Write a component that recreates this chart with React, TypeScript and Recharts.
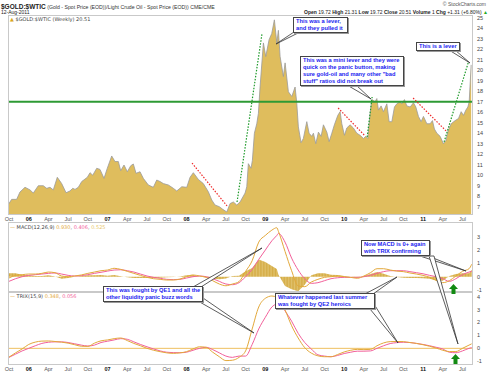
import React from "react";
import { ComposedChart, Area, Line, XAxis, YAxis, ReferenceLine } from "recharts";

// weekly gold/oil ratio, x = months since Oct 2005
const priceMonths = [
  -0.15, 0.41, 1.17, 1.67, 2.44, 3.2, 3.7, 4.46, 5.22, 5.74,
  6.24, 6.74, 7.35, 8.02, 8.68, 9.28, 9.7, 10.05, 10.55, 11.07,
  11.92, 12.33, 12.74, 13.35, 13.85, 14.46, 14.96, 15.63, 16.13, 16.64,
  17.0, 17.5, 18.01, 18.52, 18.92, 19.33, 19.94, 20.44, 21.2, 21.96,
  22.48, 22.98, 23.49, 24.25, 25.01, 25.53, 26.29, 27.05, 27.55, 28.05,
  28.81, 29.57, 30.33, 30.85, 31.35, 32.01, 32.53, 33.14, 33.64, 34.14,
  34.66, 35.16, 35.92, 36.18, 36.42, 36.83, 37.03, 37.34, 37.7, 37.95,
  38.2, 38.71, 39.07, 39.57, 39.98, 40.38, 40.75, 40.99, 41.25, 41.75,
  42.01, 42.51, 43.03, 43.53, 43.79, 44.03, 44.44, 44.79, 45.31, 45.66,
  46.07, 46.32, 46.68, 47.08, 47.49, 47.84, 48.36, 48.71, 49.12, 49.51,
  50.03, 50.38, 50.64, 51.04, 51.4, 51.9, 52.4, 52.92, 53.42, 53.93,
  54.29, 54.6, 54.95, 55.21, 55.71, 55.97, 56.21, 56.62, 56.97, 57.49,
  57.84, 58.25, 58.65, 59.01, 59.51, 59.77, 60.17, 60.53, 61.04, 61.54,
  61.9, 62.3, 62.71, 63.06, 63.58, 64.08, 64.43, 64.73, 65.1, 65.6,
  66.1, 66.47, 66.86, 67.28, 67.88, 68.39, 68.8, 69.15, 69.51, 69.82,
  70.02, 70.32,
];
const priceValues = [
  7.16, 7.7, 7.7, 8.4, 8.85, 8.6, 8.3, 9.0, 9.0, 8.75,
  8.85, 8.6, 9.8, 9.2, 8.33, 8.5, 8.75, 8.65, 8.85, 9.4,
  9.8, 10.24, 10.0, 10.66, 10.55, 9.7, 10.66, 11.83, 11.3, 11.3,
  10.43, 10.97, 10.33, 10.9, 11.07, 10.18, 10.33, 9.7, 9.07, 8.85,
  9.54, 9.4, 9.2, 9.07, 8.75, 8.5, 8.9, 8.85, 9.8, 10.24,
  9.6, 9.2, 8.43, 7.64, 7.16, 7.0, 6.75, 6.5, 7.3, 7.45,
  7.16, 7.45, 8.3, 8.9, 11.1, 10.66, 11.4, 14.0, 14.9, 15.9,
  18.4, 22.6, 21.3, 22.9, 23.5, 24.8, 22.6, 23.8, 21.3, 19.4,
  20.7, 17.95, 17.5, 18.4, 16.85, 14.6, 13.1, 13.5, 15.1, 14.0,
  13.7, 14.0, 13.0, 14.1, 13.7, 14.8, 14.1, 13.2, 14.0, 14.8,
  15.7, 16.05, 14.9, 13.8, 14.5, 14.8, 14.5, 14.0, 13.8, 13.5,
  13.7, 13.5, 15.9, 17.2, 17.0, 17.3, 16.2, 16.6, 16.05, 16.8,
  15.1, 15.1, 16.5, 16.8, 17.0, 16.8, 17.2, 16.6, 16.5, 16.9,
  16.5, 15.6, 15.1, 15.6, 14.9, 14.9, 15.2, 14.4, 14.0, 13.7,
  13.0, 13.3, 14.3, 14.9, 15.2, 15.4, 16.05, 15.7, 16.2, 16.5,
  17.0, 20.51,
];

// indicator panels, sampled monthly
const indMonths = [
  0, 1, 2, 3, 4, 5, 6, 7, 8, 9,
  10, 11, 12, 13, 14, 15, 16, 17, 18, 19,
  20, 21, 22, 23, 24, 25, 26, 27, 28, 29,
  30, 31, 32, 33, 34, 35, 36, 37, 38, 39,
  40, 40.75, 41, 42, 43, 44, 45, 46, 47, 48, 49,
  50, 51, 52, 53, 54, 55, 56, 57, 58, 59,
  60, 61, 62, 63, 64, 65, 66, 67, 68, 69,
  70, 70.4,
];
const macdLine = [
  -0.1, 0.1, 0.15, 0.2, 0.2, 0.25, 0.35, 0.3, 0.05, 0.0,
  0.05, 0.13, 0.25, 0.35, 0.45, 0.5, 0.63, 0.55, 0.4, 0.25,
  0.1, -0.05, -0.15, -0.2, -0.25, -0.25, -0.18, 0.0, 0.13, 0.05,
  -0.05, -0.3, -0.55, -0.68, -0.55, -0.37, 0.4, 1.2, 2.6, 3.1,
  3.5, 3.68, 3.4, 1.9, 0.45, -0.7, -0.75, -0.4, -0.2, -0.05, 0.0,
  0.05, 0.0, -0.05, -0.12, 0.05, 0.3, 0.6, 0.6, 0.5, 0.42,
  0.38, 0.28, 0.2, 0.1, -0.05, -0.28, -0.45, -0.3, 0.05, 0.4,
  0.6, 0.93,
];
const macdSignal = [
  -0.35, -0.15, 0.0, 0.1, 0.15, 0.2, 0.25, 0.28, 0.2, 0.1,
  0.05, 0.08, 0.15, 0.25, 0.33, 0.42, 0.5, 0.52, 0.45, 0.35,
  0.2, 0.05, -0.05, -0.12, -0.2, -0.22, -0.2, -0.1, 0.0, 0.05,
  0.0, -0.15, -0.35, -0.55, -0.6, -0.45, 0.0, 0.55, 1.3, 2.0,
  2.7, 3.1, 3.25, 2.6, 1.4, 0.5, -0.15, -0.5, -0.45, -0.3, -0.15,
  -0.08, -0.05, -0.05, -0.05, 0.0, 0.1, 0.25, 0.38, 0.45, 0.45,
  0.45, 0.38, 0.3, 0.22, 0.1, 0.0, -0.15, -0.35, -0.15, 0.15,
  0.35, 0.406,
];
const macdHist = [
  0.25, 0.25, 0.15, 0.1, 0.05, 0.05, 0.1, 0.02, -0.15, -0.1,
  0.0, 0.05, 0.1, 0.1, 0.12, 0.08, 0.13, 0.03, -0.05, -0.1,
  -0.1, -0.1, -0.1, -0.08, -0.05, -0.03, 0.02, 0.1, 0.13, 0.0,
  -0.05, -0.15, -0.2, -0.13, 0.05, 0.08, 0.4, 0.65, 1.3, 1.1,
  0.8, 0.58, 0.15, -0.7, -0.95, -1.1, -0.6, 0.1, 0.25, 0.25, 0.15,
  0.13, 0.05, 0.0, -0.07, 0.05, 0.2, 0.35, 0.22, 0.05, -0.03,
  -0.07, -0.1, -0.1, -0.12, -0.15, -0.28, -0.3, 0.05, 0.2, 0.25,
  0.25, 0.525,
];
const trixLine = [
  -0.68, -0.35, -0.05, 0.3, 0.48, 0.56, 0.57, 0.53, 0.48, 0.4,
  0.28, 0.16, 0.15, 0.4, 0.58, 0.65, 0.75, 0.8, 0.6, 0.38,
  0.2, 0.0, -0.15, -0.26, -0.35, -0.39, -0.35, -0.26, -0.05, 0.12,
  0.08, -0.3, -0.65, -0.95, -0.92, -0.7, -0.2, 1.5, 3.2, 3.87,
  4.05, 3.95, 3.85, 2.97, 1.75, 0.8, 0.05, -0.37, -0.58, -0.65, -0.65,
  -0.48, -0.28, -0.15, -0.08, -0.1, -0.08, 0.2, 0.42, 0.52, 0.53,
  0.52, 0.45, 0.38, 0.28, 0.16, 0.02, -0.15, -0.25, -0.25, 0.0,
  0.25, 0.348,
];
const trixSignal = [
  -0.7, -0.45, -0.2, 0.0, 0.2, 0.38, 0.47, 0.5, 0.5, 0.45,
  0.35, 0.25, 0.18, 0.25, 0.45, 0.55, 0.65, 0.75, 0.7, 0.5,
  0.3, 0.12, -0.05, -0.2, -0.3, -0.33, -0.34, -0.3, -0.15, 0.0,
  0.08, -0.1, -0.35, -0.6, -0.7, -0.6, -0.6, 0.3, 1.5, 2.4,
  3.2, 3.45, 3.5, 2.9, 2.1, 1.16, 0.45, -0.05, -0.5, -0.6, -0.65,
  -0.55, -0.4, -0.3, -0.22, -0.22, -0.2, 0.0, 0.2, 0.37, 0.44,
  0.47, 0.45, 0.38, 0.3, 0.2, 0.08, -0.05, -0.3, -0.34, -0.2,
  0.0, 0.056,
];

const tickMonths = [0, 3, 6, 9, 12, 15, 18, 21, 24, 27, 30, 33, 36, 39, 42, 45, 48, 51, 54, 57, 60, 63, 66, 69];
const tickLabels = ["Oct", "06", "Apr", "Jul", "Oct", "07", "Apr", "Jul", "Oct", "08", "Apr", "Jul", "Oct", "09", "Apr", "Jul", "Oct", "10", "Apr", "Jul", "Oct", "11", "Apr", "Jul"];
const priceTicks = [7, 8, 9, 10, 11, 12, 13, 14, 15, 16, 17, 18, 19, 20, 21, 22, 23, 24, 25];
const macdTicks = [-1, 0, 1, 2, 3];
const trixTicks = [-1, 0, 1, 2, 3, 4];

// hand drawn trend lines: [month1, value1, month2, value2]
const redTrends = [
  [27.85, 11.16, 33.18, 7.07],
  [50.08, 16.4, 54.19, 13.73],
  [61.49, 17.35, 66.67, 14.12],
];
const greenTrends = [
  [34.7, 7.45, 38.5, 23.5],
  [54.5, 13.64, 55.25, 17.45],
  [66.2, 13.17, 69.86, 20.69],
];

const priceData = priceMonths.map((t, i) => ({ t, v: priceValues[i] }));
const indData = indMonths.map((t, i) => ({
  t,
  macd: macdLine[i],
  signal: macdSignal[i],
  hist: macdHist[i],
  trix: trixLine[i],
  trixSig: trixSignal[i],
}));

const font = '"Liberation Sans", Arial, sans-serif';
const xDomain: [number, number] = [-0.15, 70.6];
const GOLD = "#e3a83a";
const PINK = "#f2609a";

function MonthTick(props: any) {
  const { x, y, payload } = props;
  const label = tickLabels[tickMonths.indexOf(payload.value)] ?? "";
  const isYear = /^\d/.test(label);
  return (
    <text x={x} y={y} dy={5.5} textAnchor="middle" fontSize={5.5} fontFamily={font}
      fontWeight={isYear ? 700 : 400} fill={isYear ? "#111" : "#555"}>
      {label}
    </text>
  );
}

const yTick = { fontSize: 5.5, fill: "#444", fontFamily: font };

const callouts = [
  { left: 293, top: 17, width: 55, lines: ["This was a lever,", "and they pulled it"] },
  { left: 300, top: 56, width: 104, lines: ["This was a mini lever and they were", "quick on the panic button, making", "sure gold-oil and many other \"bad", "stuff\" ratios did not break out"] },
  { left: 416, top: 42, width: 43, lines: ["This is a lever"] },
  { left: 361, top: 240, width: 69, lines: ["Now MACD is 0+ again", "with TRIX confirming"] },
  { left: 103, top: 286, width: 100, lines: ["This was fought by QE1 and all the", "other liquidity panic buzz words"] },
  { left: 275, top: 293, width: 100, lines: ["Whatever happened last summer", "was fought by QE2 heroics"] },
];
const tails = [
  "297,30 304,30 276,44",
  "347,85 356,85 371,99",
  "449,50 455,50 470,63",
  "420,256 428,256 466,271",
  "429,256 434,256 458,344",
  "193,287 201,287 262,248",
  "198,301 203,298 254,333",
  "365,294 373,294 397,277",
  "370,309 374,304 398,343",
];
const arrows = [
  "449,289 453.5,284 458,289 455.5,289 455.5,294 451.5,294 451.5,289",
  "451,359 455.5,354 460,359 457.5,359 457.5,364 453.5,364 453.5,359",
];

const small: React.CSSProperties = { position: "absolute", fontFamily: font, whiteSpace: "nowrap", color: "#222" };

export default function App() {
  return (
    <div style={{ position: "absolute", left: 0, top: 0, width: 490, height: 373, background: "#fff", overflow: "hidden" }}>
      {/* header */}
      <div style={{ ...small, left: 1, top: 0, lineHeight: "7px" }}>
        <span style={{ fontSize: 6.5, fontWeight: 700 }}>$GOLD:$WTIC</span>
        <span style={{ fontSize: 5.2, color: "#333" }}> (Gold - Spot Price (EOD))/Light Crude Oil - Spot Price (EOD)) CME/CME</span>
      </div>
      <div style={{ ...small, left: 1, top: 8.5, fontSize: 5, lineHeight: "6px" }}>12-Aug-2011</div>
      <div style={{ ...small, right: 4, top: 1, fontSize: 5, lineHeight: "6px", color: "#555" }}>© StockCharts.com</div>
      <div style={{ ...small, right: 2, top: 8.5, fontSize: 5, lineHeight: "6px" }}>
        <b>Open</b> 19.72 <b>High</b> 21.31 <b>Low</b> 19.72 <b>Close</b> 20.51 <b>Volume</b> 1 <b>Chg</b> +1.31 (+6.80%) <span style={{ color: "#22aa22" }}>▲</span>
      </div>

      {/* price panel */}
      <div style={{ position: "absolute", left: 0, top: 15 }}>
        <ComposedChart width={490} height={207} data={priceData} margin={{ top: 0, right: 0, bottom: 0, left: 8 }}>
          <XAxis dataKey="t" type="number" domain={xDomain} ticks={tickMonths} interval={0} tick={<MonthTick />}
            tickSize={0} tickMargin={0} axisLine={false} height={7} allowDataOverflow />
          <YAxis orientation="right" type="number" domain={[6.21, 25.26]} ticks={priceTicks} interval={0} width={17}
            axisLine={false} tickLine={false} tickSize={2} tickMargin={2} tick={yTick} allowDataOverflow />
          <Area dataKey="v" type="linear" fill="#dfbd5d" fillOpacity={1} stroke="#9b9b9b" strokeWidth={0.8} isAnimationActive={false} />
          <ReferenceLine y={17} stroke="#2e9a34" strokeWidth={2} />
          {redTrends.map((s, i) => (
            <ReferenceLine key={"r" + i} segment={[{ x: s[0], y: s[1] }, { x: s[2], y: s[3] }]} stroke="#ee2a2a" strokeWidth={1.2} strokeDasharray="1.5 1.5" />
          ))}
          {greenTrends.map((s, i) => (
            <ReferenceLine key={"g" + i} segment={[{ x: s[0], y: s[1] }, { x: s[2], y: s[3] }]} stroke="#1e9a2a" strokeWidth={1.2} strokeDasharray="1.5 1.5" />
          ))}
        </ComposedChart>
      </div>

      {/* MACD panel */}
      <div style={{ position: "absolute", left: 0, top: 222 }}>
        <ComposedChart width={490} height={70} data={indData} margin={{ top: 0, right: 0, bottom: 0, left: 8 }}>
          <defs>
            <pattern id="histStripes" width={1.52} height={4} patternUnits="userSpaceOnUse">
              <rect width={1.52} height={4} fill="#ead08a" />
              <rect width={1.1} height={4} fill="#d4ac45" />
            </pattern>
          </defs>
          <XAxis dataKey="t" type="number" domain={xDomain} hide allowDataOverflow />
          <YAxis orientation="right" type="number" domain={[-1.15, 4.11]} ticks={macdTicks} interval={0} width={17}
            axisLine={false} tickLine={false} tickSize={2} tickMargin={2} tick={yTick} allowDataOverflow />
          <Area dataKey="hist" type="linear" fill="url(#histStripes)" fillOpacity={1} stroke="none" baseValue={0} isAnimationActive={false} />
          <Line dataKey="signal" type="monotone" stroke={PINK} strokeWidth={1} dot={false} isAnimationActive={false} />
          <Line dataKey="macd" type="monotone" stroke={GOLD} strokeWidth={1} dot={false} isAnimationActive={false} />
        </ComposedChart>
      </div>

      {/* TRIX panel */}
      <div style={{ position: "absolute", left: 0, top: 292 }}>
        <ComposedChart width={490} height={81} data={indData} margin={{ top: 0, right: 0, bottom: 0, left: 8 }}>
          <XAxis dataKey="t" type="number" domain={xDomain} ticks={tickMonths} interval={0} tick={<MonthTick />}
            tickSize={0} tickMargin={0} axisLine={false} height={8} allowDataOverflow />
          <YAxis orientation="right" type="number" domain={[-1.29, 4.36]} ticks={trixTicks} interval={0} width={17}
            axisLine={false} tickLine={false} tickSize={2} tickMargin={2} tick={yTick} allowDataOverflow />
          <ReferenceLine y={0} stroke="#efc060" strokeWidth={1} />
          <Line dataKey="trixSig" type="monotone" stroke={PINK} strokeWidth={1} dot={false} isAnimationActive={false} />
          <Line dataKey="trix" type="monotone" stroke={GOLD} strokeWidth={1} dot={false} isAnimationActive={false} />
        </ComposedChart>
      </div>

      {/* panel frames */}
      {[[15, 200], [222, 70], [292, 73]].map(([top, h], i) => (
        <div key={i} style={{ position: "absolute", left: 8, top, width: 465, height: h, border: "1px solid #c9c9c9", boxSizing: "border-box", pointerEvents: "none" }} />
      ))}

      {/* panel legends */}
      <div style={{ ...small, left: 10, top: 16, fontSize: 5, lineHeight: "6px", color: "#444", fontFamily: '"DejaVu Sans", sans-serif' }}>
        <span style={{ color: "#d9a520" }}>▲</span> $GOLD:$WTIC (Weekly) 20.51
      </div>
      <div style={{ ...small, left: 10, top: 224, fontSize: 5, lineHeight: "6px", color: "#444", fontFamily: '"DejaVu Sans", sans-serif' }}>
        <span style={{ color: GOLD }}>—</span> MACD(12,26,9) <span style={{ color: GOLD }}>0.930</span>, <span style={{ color: PINK }}>0.406</span>, <span style={{ color: "#e8c66a" }}>0.525</span>
      </div>
      <div style={{ ...small, left: 10, top: 293, fontSize: 5, lineHeight: "6px", color: "#444", fontFamily: '"DejaVu Sans", sans-serif' }}>
        <span style={{ color: GOLD }}>—</span> TRIX(15,9) <span style={{ color: GOLD }}>0.348</span>, <span style={{ color: PINK }}>0.056</span>
      </div>

      {/* callout tails and arrows */}
      <svg width={490} height={373} style={{ position: "absolute", left: 0, top: 0, pointerEvents: "none" }}>
        {tails.map((p, i) => (
          <polygon key={i} points={p} fill="#fff" stroke="#333" strokeWidth={0.8} strokeLinejoin="round" />
        ))}
        {arrows.map((p, i) => (
          <polygon key={"a" + i} points={p} fill="#128a12" />
        ))}
      </svg>

      {/* callout boxes */}
      {callouts.map((c, i) => (
        <div key={i} style={{
          position: "absolute", left: c.left, top: c.top, minWidth: c.width, boxSizing: "border-box",
          background: "#fff", border: "1px solid #444", boxShadow: "1px 1px 0 #999",
          padding: "0 2px", fontFamily: font, fontWeight: 700, fontSize: 5.7, lineHeight: "7px",
          color: "#1b1bf0", whiteSpace: "nowrap",
        }}>
          {c.lines.map((l, j) => <div key={j}>{l}</div>)}
        </div>
      ))}
    </div>
  );
}
